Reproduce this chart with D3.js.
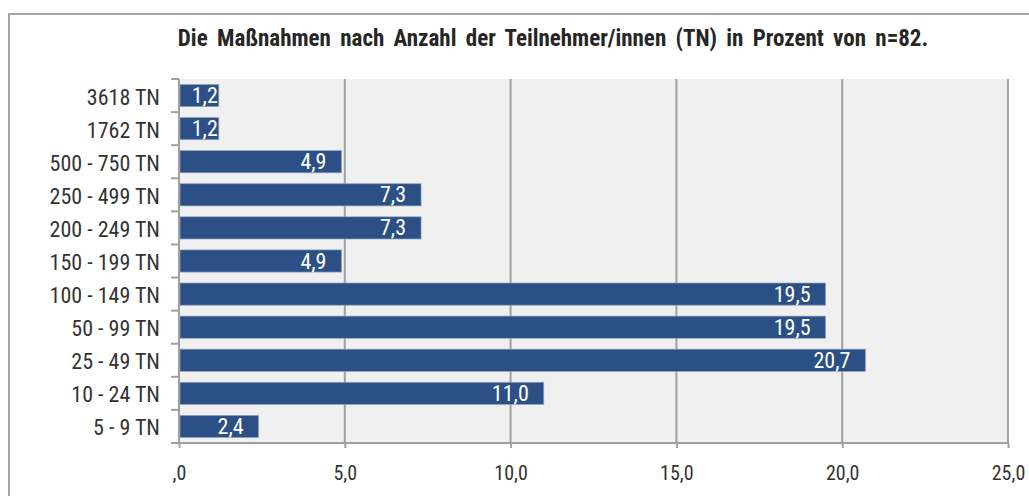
<!DOCTYPE html>
<html>
<head>
    <meta charset="utf-8">
    <title>Maßnahmen nach Anzahl TN</title>
    <script src="https://d3js.org/d3.v7.min.js"></script>
    <style>
        body { margin: 0; background: #fff; }
        text { font-family: "Liberation Sans Narrow", "Arial Narrow", "Roboto Condensed", "Liberation Sans", sans-serif; }
    </style>
</head>
<body>
    <div id="container"></div>

    <script>
        var categories = ["3618 TN", "1762 TN", "500 - 750 TN", "250 - 499 TN", "200 - 249 TN",
            "150 - 199 TN", "100 - 149 TN", "50 - 99 TN", "25 - 49 TN", "10 - 24 TN", "5 - 9 TN"];
        var values = [1.2, 1.2, 4.9, 7.3, 7.3, 4.9, 19.5, 19.5, 20.7, 11.0, 2.4];
        var ticks = [0, 5, 10, 15, 20, 25];
        var title = "Die Maßnahmen nach Anzahl der Teilnehmer/innen (TN) in Prozent von n=82.";

        var width = 1029, height = 496;
        var plotLeft = 179, plotRight = 1008, plotTop = 79, plotBottom = 443;

        var fmt = function(v) {
            var s = v.toFixed(1).replace(".", ",");
            return s.indexOf("0,") === 0 ? s.slice(1) : s;
        };

        var svg = d3.select("#container").append("svg")
            .attr("width", width)
            .attr("height", height);

        // frame
        svg.append("rect")
            .attr("x", 9).attr("y", 14)
            .attr("width", 1100).attr("height", 600)
            .attr("fill", "#fff")
            .attr("stroke", "#a6a6a6")
            .attr("stroke-width", 2);

        svg.append("text")
            .attr("x", 553).attr("y", 46)
            .attr("text-anchor", "middle")
            .attr("font-size", 23)
            .attr("font-weight", "bold")
            .attr("word-spacing", 4)
            .attr("fill", "#262626")
            .text(title);

        var x = d3.scaleLinear().domain([0, 25]).range([plotLeft, plotRight]);
        var y = d3.scaleBand().domain(categories).range([plotTop, plotBottom]).paddingInner(0.33).paddingOuter(0.165);
        var yb = d3.scaleBand().domain(categories).range([plotTop, plotBottom]);

        svg.append("rect")
            .attr("x", plotLeft).attr("y", plotTop)
            .attr("width", plotRight - plotLeft).attr("height", plotBottom - plotTop)
            .attr("fill", "#f0f0f0");

        // gridlines
        svg.selectAll(".grid").data(ticks.slice(1)).enter().append("line")
            .attr("x1", d => x(d)).attr("x2", d => x(d))
            .attr("y1", plotTop).attr("y2", plotBottom)
            .attr("stroke", "#a0a0a0").attr("stroke-width", 2);

        // bars
        svg.selectAll(".bar").data(values).enter().append("rect")
            .attr("x", x(0) + 1)
            .attr("y", (d, i) => y(categories[i]))
            .attr("width", d => x(d) - x(0) - 1)
            .attr("height", y.bandwidth())
            .attr("fill", "#2c5085")
            .attr("stroke", "#8ea4c4")
            .attr("stroke-width", 0.7);

        // value labels, pulled in from the bar end unless the bar is too short
        svg.selectAll(".val").data(values).enter().append("text")
            .attr("x", d => x(d) - (x(d) - x(0) > 60 ? 15 : 1))
            .attr("y", (d, i) => y(categories[i]) + y.bandwidth() / 2 + 7.5)
            .attr("text-anchor", "end")
            .attr("font-size", 22)
            .attr("fill", "#fff")
            .text(d => fmt(d));

        // x axis
        var xAxis = d3.axisBottom(x).tickValues(ticks).tickSize(5).tickFormat(fmt);
        var gx = svg.append("g").attr("transform", "translate(0," + plotBottom + ")").call(xAxis);
        gx.select(".domain").attr("d", "M" + (plotLeft - 8) + ",0H" + plotRight).attr("stroke", "#a0a0a0").attr("stroke-width", 2);
        gx.selectAll(".tick line").attr("stroke", "#a0a0a0").attr("stroke-width", 2);
        gx.attr("font-family", null);
        gx.selectAll(".tick text").attr("y", 23).attr("font-size", 20).attr("fill", "#333");

        // y axis
        var gy = svg.append("g").attr("transform", "translate(" + plotLeft + ",0)");
        gy.append("line").attr("x1", 0).attr("x2", 0).attr("y1", plotTop).attr("y2", plotBottom)
            .attr("stroke", "#a0a0a0").attr("stroke-width", 2);
        gy.selectAll(".yt").data(categories).enter().append("line")
            .attr("x1", -8).attr("x2", 0)
            .attr("y1", d => yb(d)).attr("y2", d => yb(d))
            .attr("stroke", "#a0a0a0").attr("stroke-width", 2);
        gy.selectAll(".yl").data(categories).enter().append("text")
            .attr("x", -19)
            .attr("y", d => yb(d) + yb.bandwidth() / 2 + 9)
            .attr("text-anchor", "end")
            .attr("font-size", 22)
            .attr("fill", "#333")
            .text(d => d);
    </script>
</body>
</html>
